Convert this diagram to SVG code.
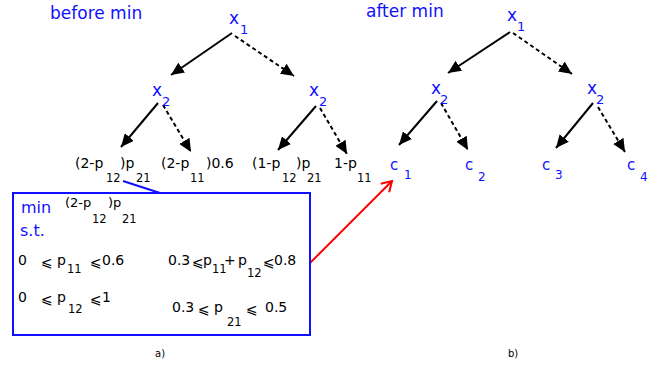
<svg xmlns="http://www.w3.org/2000/svg" width="665" height="368" viewBox="0 0 665 368">
<style>
text{font-family:"DejaVu Sans","Liberation Sans",sans-serif;}
.b{fill:#1010ff;}
.k{fill:#000;}
.n{font-size:17px;}
.ns{font-size:13px;}
.t{font-size:14px;}
.ts{font-size:11.5px;}
.solid{stroke:#000;stroke-width:2;fill:none;}
.dash{stroke:#000;stroke-width:2;fill:none;stroke-dasharray:4 3;}
</style>
<defs>
<marker id="ah" markerUnits="userSpaceOnUse" markerWidth="14" markerHeight="12" viewBox="0 0 14 12" refX="13" refY="6" orient="auto">
<path d="M0,0 L13,6 L0,12 Z" fill="#000"/>
</marker>
<marker id="ro" markerUnits="userSpaceOnUse" markerWidth="14" markerHeight="14" viewBox="0 0 14 14" refX="12" refY="7" orient="auto">
<path d="M2,1 L12,7 L2,13" fill="none" stroke="#ff0000" stroke-width="2"/>
</marker>
</defs>

<g id="titles">
<text class="b" x="50" y="19" font-size="17">before min</text>
<text class="b" x="366" y="17" font-size="17">after min</text>
<text class="k" x="155" y="357" font-size="10">a)</text>
<text class="k" x="508" y="357" font-size="10">b)</text>
</g>

<g id="connectors">
<line class="solid" x1="232" y1="33" x2="171" y2="75" marker-end="url(#ah)"/>
<line class="dash" x1="235" y1="36" x2="294" y2="76" marker-end="url(#ah)"/>
<line class="solid" x1="158" y1="103" x2="121" y2="147" marker-end="url(#ah)"/>
<line class="dash" x1="163" y1="105" x2="191" y2="152" marker-end="url(#ah)"/>
<line class="solid" x1="316" y1="106" x2="278" y2="150" marker-end="url(#ah)"/>
<line class="dash" x1="320" y1="108" x2="347" y2="154" marker-end="url(#ah)"/>
<line class="solid" x1="510" y1="32" x2="448" y2="73" marker-end="url(#ah)"/>
<line class="dash" x1="513" y1="33" x2="572" y2="74" marker-end="url(#ah)"/>
<line class="solid" x1="437" y1="101" x2="399" y2="145" marker-end="url(#ah)"/>
<line class="dash" x1="441" y1="103" x2="468" y2="150" marker-end="url(#ah)"/>
<line class="solid" x1="593" y1="103" x2="556" y2="148" marker-end="url(#ah)"/>
<line class="dash" x1="598" y1="107" x2="625" y2="152" marker-end="url(#ah)"/>
<line x1="123" y1="181" x2="160" y2="193" stroke="#1010ff" stroke-width="2"/>
<line x1="310" y1="263" x2="392" y2="181" stroke="#ff0000" stroke-width="2" marker-end="url(#ro)"/>
</g>

<g id="L_x1"><text class="b n" x="229" y="24">x</text><text class="b ns" x="240" y="34">1</text></g>
<g id="L_x2a"><text class="b n" x="152" y="96">x</text><text class="b ns" x="162" y="106">2</text></g>
<g id="L_x2b"><text class="b n" x="309" y="96">x</text><text class="b ns" x="319" y="106">2</text></g>

<g id="leaf1"><text class="k t" x="75" y="168">(2-p</text><text class="k ts" x="106" y="182">12</text><text class="k t" x="120" y="168">)p</text><text class="k ts" x="136" y="182">21</text></g>
<g id="leaf2"><text class="k t" x="161" y="168">(2-p</text><text class="k ts" x="190" y="182">11</text><text class="k t" x="206" y="168">)0.6</text></g>
<g id="leaf3"><text class="k t" x="252" y="168">(1-p</text><text class="k ts" x="282" y="182">12</text><text class="k t" x="296" y="168">)p</text><text class="k ts" x="307" y="182">21</text></g>
<g id="leaf4"><text class="k t" x="334" y="168">1-p</text><text class="k ts" x="357" y="182">11</text></g>

<g id="R_x1"><text class="b n" x="507" y="21">x</text><text class="b ns" x="517" y="31">1</text></g>
<g id="R_x2a"><text class="b n" x="431" y="94">x</text><text class="b ns" x="440" y="104">2</text></g>
<g id="R_x2b"><text class="b n" x="587" y="94">x</text><text class="b ns" x="596" y="104">2</text></g>

<g id="c1"><text class="b" x="390" y="170" font-size="15">c</text><text class="b" x="404" y="179" font-size="12">1</text></g>
<g id="c2"><text class="b" x="465" y="170" font-size="15">c</text><text class="b" x="478" y="181" font-size="12">2</text></g>
<g id="c3"><text class="b" x="542" y="170" font-size="15">c</text><text class="b" x="555" y="179" font-size="12">3</text></g>
<g id="c4"><text class="b" x="627" y="170" font-size="15">c</text><text class="b" x="640" y="181" font-size="12">4</text></g>

<g id="box">
<rect x="13" y="193" width="297" height="142" fill="none" stroke="#1010ff" stroke-width="2"/>
<text class="b" x="21" y="213" font-size="16">min</text>
<text class="b" x="20" y="236" font-size="16">s.t.</text>
<text class="k" x="65" y="207" font-size="13">(2-p</text><text class="k ts" x="92" y="223">12</text><text class="k" x="108" y="207" font-size="13">)p</text><text class="k ts" x="122" y="223">21</text>

<text class="k t" x="18" y="265">0</text>
<text class="k t" x="41" y="267">⩽</text>
<text class="k t" x="57" y="265">p</text><text class="k ts" x="67" y="273">11</text>
<text class="k t" x="90" y="267">⩽</text><text class="k t" x="102" y="265">0.6</text>

<text class="k t" x="168" y="265">0.3</text><text class="k t" x="192" y="267">⩽</text><text class="k t" x="203" y="265">p</text><text class="k ts" x="212" y="273">11</text><text class="k t" x="224" y="265">+</text><text class="k t" x="238" y="265">p</text><text class="k ts" x="247" y="277">12</text><text class="k t" x="263" y="267">⩽</text><text class="k t" x="274" y="265">0.8</text>

<text class="k t" x="18" y="302">0</text>
<text class="k t" x="41" y="304">⩽</text>
<text class="k t" x="57" y="302">p</text><text class="k ts" x="68" y="313">12</text>
<text class="k t" x="90" y="304">⩽</text><text class="k t" x="102" y="302">1</text>

<text class="k t" x="172" y="312">0.3</text><text class="k t" x="198" y="314">⩽</text><text class="k t" x="214" y="312">p</text><text class="k ts" x="227" y="326">21</text><text class="k t" x="246" y="314">⩽</text><text class="k t" x="265" y="312">0.5</text>
</g>
</svg>
